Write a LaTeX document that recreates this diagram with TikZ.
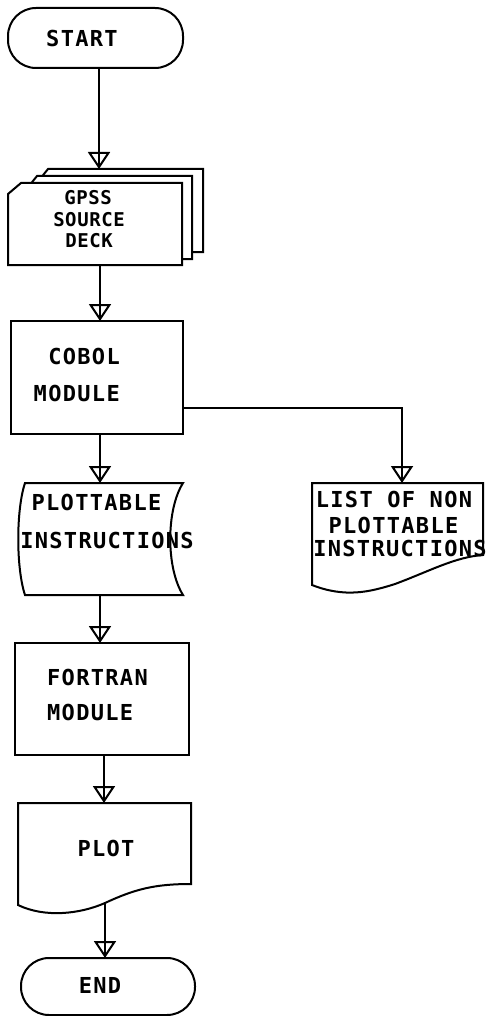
\documentclass[tikz,border=0pt]{standalone}
\usepackage{fontspec}
\newfontfamily\mono[LetterSpace=6]{DejaVu Sans Mono}
\newfontfamily\monodeck[LetterSpace=3]{DejaVu Sans Mono}
\usetikzlibrary{arrows.meta}
\begin{document}
\begin{tikzpicture}[x=1pt,y=-1pt,
  lw/.style={line width=2pt},
  outline/.style={draw, lw, fill=white, line join=miter},
  box/.style={outline, rectangle, inner sep=0pt},
  term/.style={outline, rectangle, rounded corners=28pt, inner sep=0pt},
  flow/.style={draw, lw, postaction={draw, lw, -{Triangle[open, length=17pt, width=22pt]}}},
  txt/.style={font=\mono\bfseries\fontsize{22}{26}\selectfont, inner sep=0pt},
  txtd/.style={font=\monodeck\bfseries\fontsize{19}{22}\selectfont, inner sep=0pt}]
\useasboundingbox (0,0) rectangle (487,1016);

% START
\node[term, minimum width=175pt, minimum height=60pt] (start) at (95.5,38) {};
\node[txt] (tstart) at (82,38) {START};
\coordinate (startB) at (99,68);

% GPSS source deck
\draw[outline] (40,179) -- (48,169) -- (203,169) -- (203,252) -- (40,252) -- cycle;
\draw[outline] (29,186) -- (37,176) -- (192,176) -- (192,259) -- (29,259) -- cycle;
\draw[outline] (8,194) -- (21,183) -- (182,183) -- (182,265) -- (8,265) -- cycle;
\coordinate (deckT) at (99,169);
\coordinate (deckB) at (100,265);
\node[txtd] (td1) at (88,198) {GPSS};
\node[txtd] (td2) at (89,220) {SOURCE};
\node[txtd] (td3) at (89,241) {DECK};

% COBOL module
\node[box, minimum width=172pt, minimum height=113pt] (cobol) at (97,377.5) {};
\node[txt, anchor=east] (tc1) at (120,356) {COBOL};
\node[txt, anchor=east] (tc2) at (120,393) {MODULE};
\coordinate (cobolT) at (100,321);
\coordinate (cobolB) at (100,434);
\coordinate (cobolR) at (183,408);

% Plottable instructions (stored data)
\draw[outline] (25,483) -- (183,483) .. controls (166,510) and (166,568) .. (183,595)
  -- (25,595) .. controls (16,568) and (16,510) .. (25,483) -- cycle;
\coordinate (plotinT) at (100,483);
\coordinate (plotinB) at (100,595);
\node[txt] (tp1) at (96.5,502) {PLOTTABLE};
\node[txt] (tp2) at (107,540) {INSTRUCTIONS};

% List of non plottable instructions (document)
\draw[outline] (312,483) -- (483,483) -- (483,555) .. controls (455,557) and (430,571) .. (395,584)
  .. controls (370,592) and (345,598) .. (312,585) -- cycle;
\coordinate (listT) at (402,483);
\node[txt] (tl1) at (394,499) {LIST OF NON};
\node[txt] (tl2) at (393.5,525) {PLOTTABLE};
\node[txt] (tl3) at (400,548) {INSTRUCTIONS};

% FORTRAN module
\node[box, minimum width=174pt, minimum height=112pt] (fortran) at (102,699) {};
\node[txt, anchor=west] (tf1) at (47,677) {FORTRAN};
\node[txt, anchor=west] (tf2) at (47,712) {MODULE};
\coordinate (fortT) at (100,643);
\coordinate (fortB) at (104,755);

% PLOT (document)
\draw[outline] (18,803) -- (191,803) -- (191,884) .. controls (155,884) and (135,889) .. (105,903)
  .. controls (80,914) and (45,918) .. (18,905) -- cycle;
\coordinate (plotT) at (104,803);
\coordinate (plotB) at (105,903);
\node[txt] (tplot) at (106,848) {PLOT};

% END
\node[term, minimum width=174pt, minimum height=57pt] (end) at (108,986.5) {};
\node[txt] (tend) at (100,985) {END};
\coordinate (endT) at (105,958);

% connectors
\draw[flow] (startB) -- (deckT);
\draw[flow] (deckB) -- (cobolT);
\draw[flow] (cobolB) -- (plotinT);
\draw[flow] (cobolR) -| (listT);
\draw[flow] (plotinB) -- (fortT);
\draw[flow] (fortB) -- (plotT);
\draw[flow] (plotB) -- (endT);
\end{tikzpicture}
\end{document}
